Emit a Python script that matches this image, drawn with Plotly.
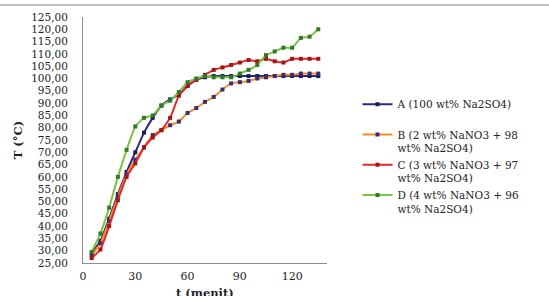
import plotly.graph_objects as go

t_menit = [5, 10, 15, 20, 25, 30, 35, 40, 45, 50, 55, 60, 65, 70, 75, 80, 85, 90,
           95, 100, 105, 110, 115, 120, 125, 130, 135]

temp_A = [29, 34, 43, 53, 62, 70, 78, 84, 89, 91.5, 93.5, 97, 99.5, 100.5, 101, 101,
          101, 101, 101, 101, 101, 101, 101, 101, 101, 101, 101]
temp_B = [28, 33, 42, 52, 61, 67, 72, 77, 79, 81, 82.5, 86, 88, 90.5, 92.5, 95.5, 98,
          98.5, 99, 100, 100.5, 101, 101.5, 101.5, 102, 102, 102]
temp_C = [27, 30.5, 40, 50.5, 60, 65.5, 72, 76, 79, 84, 93, 97, 99.5, 101.5, 103.5,
          104.5, 105.5, 106.5, 107.5, 107, 108, 107, 106.5, 108, 108, 108, 108]
temp_D = [29.5, 37, 47.5, 60, 71, 80.5, 84, 85, 89, 91, 94.5, 98.5, 100, 101, 100.5,
          100.5, 100.5, 102, 103.5, 105.5, 109.5, 111, 112.5, 112.5, 116.5, 117, 120]

series_names = [
    "A (100 wt% Na2SO4)<br> ",
    "B (2 wt% NaNO3 + 98<br>wt% Na2SO4)",
    "C (3 wt% NaNO3 + 97<br>wt% Na2SO4)",
    "D (4 wt% NaNO3 + 96<br>wt% Na2SO4)",
]
series_values = [temp_A, temp_B, temp_C, temp_D]
line_colors = ["#27297a", "#f28c28", "#e3262b", "#7dc242"]
marker_colors = ["#1c1c5e", "#3b2e70", "#a31616", "#2f7a2a"]

y_tickvals = list(range(25, 130, 5))
y_ticktext = [f"{v},00" for v in y_tickvals]
x_tickvals = [0, 30, 60, 90, 120]
x_title = "t (menit)"

fig = go.Figure()
for name, vals, lc, mc in zip(series_names, series_values, line_colors, marker_colors):
    fig.add_trace(go.Scatter(
        x=t_menit, y=vals, name=name, mode="lines+markers",
        line=dict(color=lc, width=2, shape="spline", smoothing=0.4),
        marker=dict(color=mc, size=4, symbol="square"),
    ))

serif = "DejaVu Serif, Liberation Serif, serif"
fig.update_layout(
    width=549, height=296,
    margin=dict(l=83, r=222, t=17, b=33),
    paper_bgcolor="white", plot_bgcolor="white",
    font=dict(family=serif, size=11, color="#222"),
    showlegend=True,
    legend=dict(
        x=1.125, y=0.70, xanchor="left", yanchor="top",
        font=dict(family=serif, size=10.5, color="#222"),
        valign="top", bgcolor="rgba(0,0,0,0)", tracegroupgap=0,
    ),
    xaxis=dict(
        range=[0, 140], tickvals=x_tickvals, showgrid=False, zeroline=False,
        showline=True, linecolor="#8c8c8c", linewidth=1, ticks="", automargin=False,
        ticklabelstandoff=3, tickfont=dict(family=serif, size=11),
    ),
    yaxis=dict(
        range=[25, 125], tickvals=y_tickvals, ticktext=y_ticktext, showgrid=False,
        zeroline=False, showline=True, linecolor="#8c8c8c", linewidth=1, ticks="",
        automargin=False,
        ticklabelstandoff=12, tickfont=dict(family=serif, size=10.5),
        title=dict(text="<b>T (°C)</b>", font=dict(family=serif, size=11.5), standoff=6),
    ),
    annotations=[dict(text=f"<b>{x_title}</b>", xref="paper", yref="paper",
                      x=0.5, y=-0.122, xanchor="center", yanchor="middle",
                      showarrow=False, font=dict(family=serif, size=11.5, color="#222"))],
    shapes=[dict(type="line", xref="paper", yref="paper", x0=-0.34, x1=1.91,
                 y0=1.049, y1=1.049, line=dict(color="#c0c0c0", width=2))],
)

fig.write_html("out.html")
